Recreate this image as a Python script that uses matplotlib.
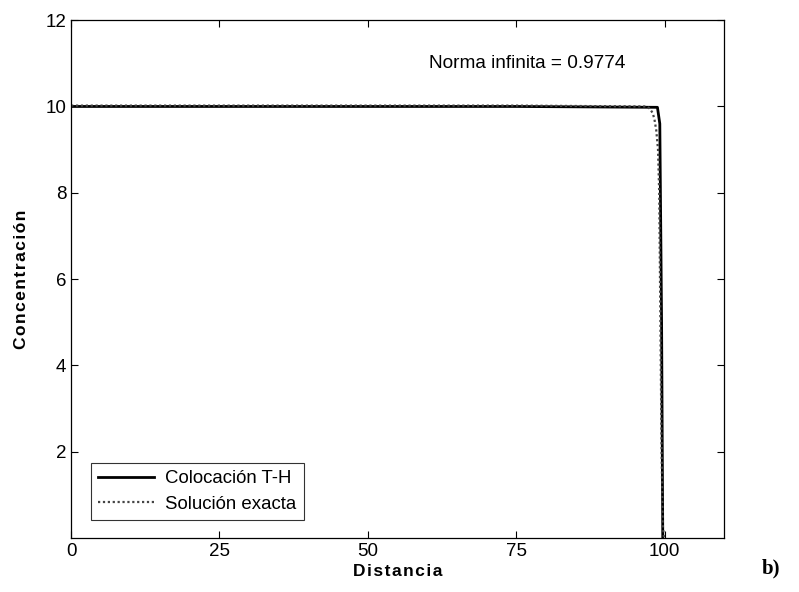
import matplotlib
matplotlib.use("Agg")
import matplotlib.pyplot as plt

# Colocacion T-H (solid) and exact solution (dotted)
x_th = [0, 25, 50, 75, 98.8, 99.2, 99.5, 99.7]
c_th = [10, 10, 10, 10, 9.98, 9.6, 5.0, 0]

x_ex = [0, 25, 50, 75, 97.0, 97.5, 98.0, 98.3, 98.6, 98.9, 99.1, 99.3, 99.5, 99.7, 99.9]
c_ex = [10.02, 10.02, 10.02, 10.02, 10.0, 9.95, 9.85, 9.7, 9.45, 9.0, 8.0, 5.0, 2.0, 0.3, 0]

x_ticks = [0, 25, 50, 75, 100]
y_ticks = [2, 4, 6, 8, 10, 12]
norma = 0.9774

plt.rcParams['font.family'] = ['Liberation Sans', 'DejaVu Sans']

fig = plt.figure(figsize=(7.99, 5.92), dpi=100)
ax = fig.add_axes([0.089, 0.091, 0.817, 0.875])

ax.plot(x_th, c_th, color='black', lw=2.0, label='Colocación T-H')
ax.plot(x_ex, c_ex, color='#444444', lw=1.6, linestyle=(0, (1, 1.2)), label='Solución exacta')

ax.set_xlim(0, 110)
ax.set_ylim(0, 12)
ax.set_xticks(x_ticks)
ax.set_yticks(y_ticks)
ax.tick_params(direction='in', top=True, right=True, labelsize=13.5, length=5, width=0.8)
for s in ax.spines.values():
    s.set_linewidth(0.9)

sp = '\u200a'
ax.set_xlabel(sp.join('Distancia'), fontsize=12.5, fontweight='bold', labelpad=3)
ax.set_ylabel(sp.join('Concentración'), fontsize=12.5, fontweight='bold', labelpad=12)

ax.text(60.3, 11.0, 'Norma infinita = %.4f' % norma, fontsize=13.7, va='center', ha='left')

leg = ax.legend(loc='lower left', bbox_to_anchor=(0.016, 0.017), fontsize=13.4,
                frameon=True, fancybox=False, edgecolor='black', handlelength=3.0,
                borderpad=0.4, labelspacing=0.45, handletextpad=0.6)
leg.get_frame().set_linewidth(0.8)

fig.text(0.965, 0.04, 'b)', fontsize=15, family='Liberation Serif', fontweight='bold',
         ha='center', va='center')

fig.savefig('out.png', dpi=100)
